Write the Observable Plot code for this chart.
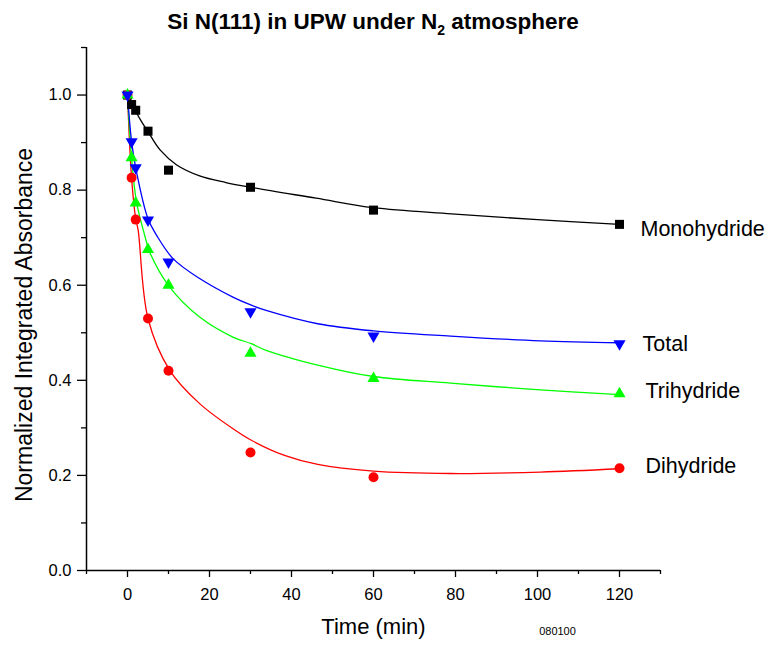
<!DOCTYPE html>
<html>
<head>
<meta charset="utf-8">
<script src="https://cdn.jsdelivr.net/npm/d3@7"></script>
<script src="https://cdn.jsdelivr.net/npm/@observablehq/plot@0.6"></script>
<style>
  body { margin: 0; background: #ffffff; }
  #title {
    width: 767px; height: 40px; box-sizing: border-box;
    padding-top: 9px; padding-right: 21px;
    text-align: center; line-height: 22px;
    font: bold 22.5px "Liberation Sans", Arial, sans-serif; color: #000;
  }
  #title .sub { position: relative; top: 6px; font-size: 14px; }
</style>
</head>
<body>
<div id="title">Si N(111) in UPW under N<span class="sub">2</span> atmosphere</div>
<div id="chart"></div>
<script>
// ---- data ----
const times = [0, 1, 2, 5, 10, 30, 60, 120];
const monohydride = [1.000, 0.980, 0.968, 0.924, 0.842, 0.806, 0.758, 0.728];
const total       = [1.000, 0.902, 0.847, 0.737, 0.649, 0.544, 0.493, 0.477];
const trihydride  = [1.000, 0.868, 0.773, 0.675, 0.600, 0.457, 0.404, 0.372];
const dihydride   = [1.000, 0.826, 0.738, 0.530, 0.420, 0.248, 0.196, 0.215];

// fitted curves
const monoFitX  = [0, 1, 2, 3.5, 5, 8, 12, 17.6, 24, 30, 46, 60, 79, 100, 120];
const monoFitY  = [1.000, 0.985, 0.966, 0.943, 0.923, 0.884, 0.853, 0.830, 0.816, 0.806, 0.783, 0.763, 0.750, 0.738, 0.728];
const totalFitX = [0, 1, 2, 5, 7.1, 11.1, 17.6, 25.7, 30.2, 33.8, 46.4, 60, 78.8, 100.7, 120];
const totalFitY = [1.000, 0.902, 0.847, 0.740, 0.705, 0.656, 0.614, 0.575, 0.558, 0.547, 0.519, 0.504, 0.493, 0.483, 0.479];
const triFitX   = [0, 1, 2.2, 4.2, 5.4, 10.3, 17.6, 25.7, 30.2, 33.8, 46.4, 60, 78.8, 100.7, 120];
const triFitY   = [1.000, 0.867, 0.775, 0.705, 0.670, 0.596, 0.533, 0.491, 0.477, 0.463, 0.432, 0.408, 0.394, 0.380, 0.370];
const diFitX    = [0, 1, 2, 2.6, 5, 10.3, 17.6, 26.1, 30.2, 38.3, 46.4, 60, 78.8, 100.7, 120];
const diFitY    = [1.000, 0.825, 0.740, 0.716, 0.530, 0.421, 0.351, 0.296, 0.274, 0.242, 0.223, 0.209, 0.204, 0.207, 0.214];

const seriesNames = ["Monohydride", "Dihydride", "Trihydride", "Total"];
const xTicks = [0, 20, 40, 60, 80, 100, 120];
const xMinorTicks = [-10, 10, 30, 50, 70, 90, 110, 130];
const yTicks = [0, 0.2, 0.4, 0.6, 0.8, 1.0];
const yMinorTicks = [0.1, 0.3, 0.5, 0.7, 0.9, 1.1];
const xDomain = [-10, 130];
const yDomain = [0, 1.1];
const xLabel = "Time (min)";
const yLabel = "Normalized Integrated Absorbance";
const stamp = "080100";

// ---- symbols ----
function triangle(down) {
  return {
    draw(ctx, size) {
      const a = Math.sqrt(size * 4 / Math.sqrt(3));
      const h = a * Math.sqrt(3) / 2;
      const s = down ? -1 : 1;
      ctx.moveTo(0, -s * 2 * h / 3);
      ctx.lineTo(a / 2, s * h / 3);
      ctx.lineTo(-a / 2, s * h / 3);
      ctx.closePath();
    }
  };
}

// ---- styles (kept apart from the data) ----
const styles = {
  Monohydride: {color: "#000000", symbol: "square", r: 5.1, dx: 21, dy: 5},
  Dihydride:   {color: "#ff0000", symbol: "circle", r: 5.0, dx: 26, dy: -2},
  Trihydride:  {color: "#00ff00", symbol: triangle(false), r: 4.5, dx: 26, dy: -3},
  Total:       {color: "#0000ff", symbol: triangle(true), r: 4.5, dx: 23, dy: 0}
};

const values = {Monohydride: monohydride, Dihydride: dihydride, Trihydride: trihydride, Total: total};
const fits = {
  Monohydride: [monoFitX, monoFitY],
  Dihydride: [diFitX, diFitY],
  Trihydride: [triFitX, triFitY],
  Total: [totalFitX, totalFitY]
};

const points = {};
const curves = {};
for (const name of seriesNames) {
  points[name] = times.map((t, i) => ({t, v: values[name][i]}));
  curves[name] = fits[name][0].map((t, i) => ({t, v: fits[name][1][i]}));
}

const marks = [
  Plot.ruleX([xDomain[0]], {stroke: "#000", strokeWidth: 1.5}),
  Plot.ruleY([yDomain[0]], {stroke: "#000", strokeWidth: 1.5}),
  Plot.axisY({ticks: yTicks, tickSize: 9, tickPadding: 6, tickFormat: d3.format(".1f"), fontSize: 16.5, label: null, strokeWidth: 1.3}),
  Plot.axisY({ticks: yMinorTicks, tickSize: 5, tickFormat: () => "", label: null, strokeWidth: 1.3}),
  Plot.axisX({ticks: xTicks, tickSize: 7, tickPadding: 11, tickFormat: d3.format("d"), fontSize: 16.5, label: null, strokeWidth: 1.3}),
  Plot.axisX({ticks: xMinorTicks, tickSize: 4, tickFormat: () => "", label: null, strokeWidth: 1.3})
];

for (const name of seriesNames) {
  marks.push(Plot.line(curves[name], {x: "t", y: "v", stroke: styles[name].color, strokeWidth: 1.3, curve: "catmull-rom"}));
}
for (const name of seriesNames) {
  const st = styles[name];
  marks.push(Plot.dot(points[name], {x: "t", y: "v", symbol: st.symbol, r: st.r, fill: st.color, stroke: "none"}));
  const last = points[name][points[name].length - 1];
  marks.push(Plot.text([last], {x: "t", y: "v", text: () => name, dx: st.dx, dy: st.dy, textAnchor: "start", fontSize: 21.5, fill: "#000"}));
}

marks.push(Plot.text([yLabel], {text: d => d, frameAnchor: "left", textAnchor: "middle", rotate: -90, dx: -62, dy: 16, fontSize: 23, fill: "#000"}));
marks.push(Plot.text([xLabel], {text: d => d, frameAnchor: "bottom", textAnchor: "middle", dy: 63, fontSize: 22, fill: "#000"}));
marks.push(Plot.text([stamp], {text: d => d, frameAnchor: "bottom", textAnchor: "middle", dx: 184, dy: 64, fontSize: 11, fill: "#000"}));

const chart = Plot.plot({
  width: 767,
  height: 605,
  marginTop: 7,
  marginBottom: 75,
  marginLeft: 86,
  marginRight: 107,
  x: {domain: xDomain},
  y: {domain: yDomain},
  style: {fontFamily: "'Liberation Sans', Arial, sans-serif", fontSize: "16.5px", color: "#000", background: "#fff", overflow: "visible"},
  marks
});
document.getElementById("chart").appendChild(chart);
</script>
</body>
</html>
